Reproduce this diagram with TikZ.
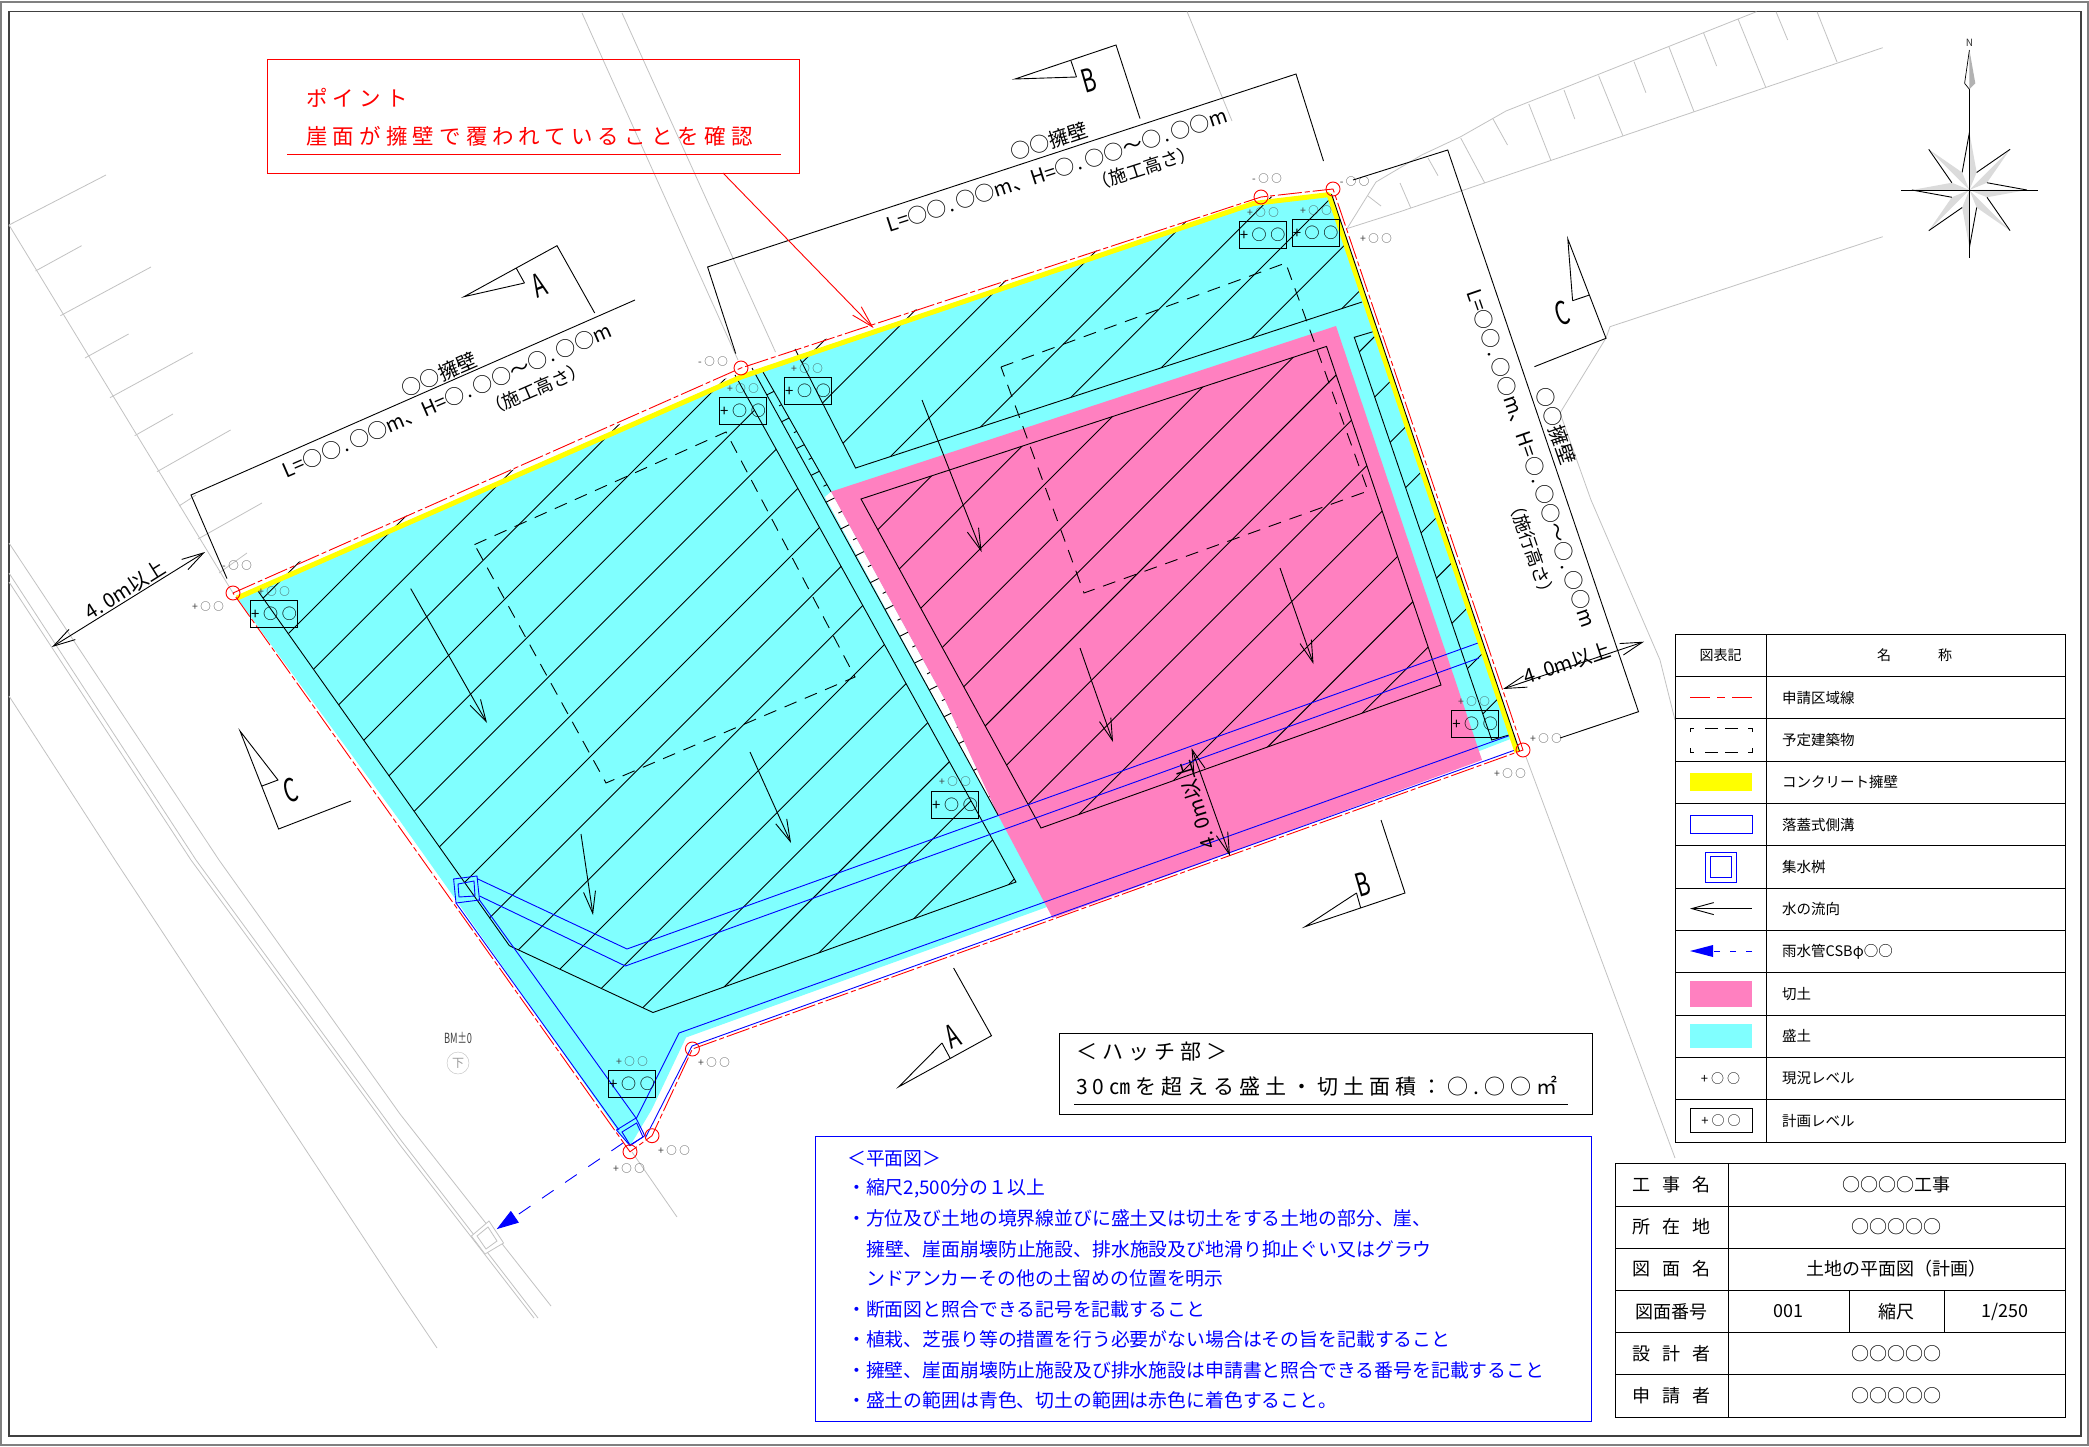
\documentclass[tikz,border=0pt]{standalone}
\usepackage{fontspec}
\setmainfont{Noto Sans CJK JP}
\newfontfamily\widefont[LetterSpace=24]{Noto Sans CJK JP}
\usetikzlibrary{arrows.meta}
\definecolor{wallyellow}{RGB}{255,255,0}
\definecolor{fillcyan}{RGB}{128,255,255}
\definecolor{cutpink}{RGB}{255,128,192}
\newcommand{\fs}[1]{\fontsize{#1}{#1}\selectfont}
\newcommand{\gp}{\hspace{12pt}}
\newcommand{\dt}{\hspace{2pt}.\hspace{3pt}}
\newcommand{\wallsize}{L=○○\dt ○○m、H=○\dt ○○～○\dt ○○m}
\newcommand{\narrow}[1]{\scalebox{.66}[1]{#1}}
\newcommand{\hatchlines}{\foreach \i in {-1,...,21} {\pgfmathsetmacro{\hc}{922+60.7*\i} \draw[hatch] (0,\hc) -- (\hc,0);}}

\begin{document}
\begin{tikzpicture}[x=1pt,y=-1pt,>={Straight Barb[length=22pt,width=12pt]},line join=miter]
  \tikzstyle{ground}=[draw=black!24,line width=0.8pt]
  \tikzstyle{hatch}=[draw=black,line width=0.9pt]
  \tikzstyle{blk}=[draw=black,line width=0.9pt]
  \tikzstyle{plan}=[draw=black,dash pattern=on 13pt off 9pt,line width=0.9pt]
  \tikzstyle{drain}=[draw=blue,line width=0.9pt]
  \tikzstyle{redline}=[draw=red,line width=0.9pt,dash pattern=on 24pt off 3pt on 5pt off 3pt]
  \tikzstyle{redmark}=[circle,draw=red,line width=0.9pt,minimum size=14pt,inner sep=0pt]
  \tikzstyle{lvl}=[text=black!75,font=\widefont\fs{10.5},inner sep=0pt]
  \tikzstyle{lvlbox}=[draw=black,line width=0.9pt,font=\widefont\fs{15},minimum width=47pt,minimum height=27pt,inner sep=0pt]
  \tikzstyle{seclabel}=[font=\fs{32},inner sep=0pt,text=black]
  \tikzstyle{walltext}=[font=\fs{20},inner sep=0pt]
  \tikzstyle{wallsub}=[font=\fs{18},inner sep=0pt]
  \tikzstyle{legtext}=[font=\fs{14.5},anchor=west,inner sep=0pt]
  \tikzstyle{tbltext}=[font=\fs{18},inner sep=0pt]
  \tikzstyle{note}=[font=\fs{18.85},text=blue,anchor=west,inner sep=0pt]

  \useasboundingbox (0,0) rectangle (2089,1447);
  \fill[white] (0,0) rectangle (2089,1447);
  \draw[draw=black!50,line width=1.5pt] (1,2) rectangle (2088,1445);
  \draw[draw=black!75,line width=1.5pt] (9,11.5) rectangle (2081,1436);

  % map
  \draw[ground] (9,225) -- (233,593);
  \draw[ground] (9,225) -- (106,175) (35.5,271) -- (81.6,245.7) (60.4,315.7) -- (151,267) (85,358) -- (128.6,334)
    (110,397.7) -- (192.7,352.7) (134.7,435.7) -- (173,414) (157,471.7) -- (230.6,430)
    (179,506) -- (196,495) (198,539) -- (262,503) (219,573) -- (247,553);
  \draw[ground] (9,543) -- (219,860) -- (400,1114) -- (551,1306);
  \draw[ground] (9,573) -- (196,860) -- (400,1139) -- (538,1318);
  \draw[ground] (9,582) -- (191,860) -- (400,1145) -- (534,1318);
  \draw[ground] (9,696) -- (115,860) -- (400,1293) -- (437,1348);
  \draw[ground,fill=white] (471.4,1236) -- (489,1221) -- (503.6,1243) -- (485,1254) -- cycle;
  \draw[ground] (477,1236) -- (488,1227) -- (497,1241) -- (486,1249) -- cycle;
  \draw[ground] (632,1152) -- (677,1217);
  \draw[ground] (582,13) -- (738,360);
  \draw[ground] (622,13) -- (775.5,352);
  \draw[ground] (1187,11.5) -- (1232,121);
  \draw[ground] (1347,228.6) -- (1376,182) -- (1421.7,155) -- (1460.7,136.7) -- (1506,111) -- (1756.5,11.7);
  \draw[ground] (1347,228.6) -- (1400,211.7) -- (1882.7,47.7);
  \draw[ground] (1882.7,236.7) -- (1610,326.7) -- (1606,338) -- (1560,413) -- (1591,500) -- (1660,660) -- (1675,720);
  \draw[ground] (1526,757) -- (1675,1158);
  \draw[ground] (1460.7,138) -- (1484.6,182.7) (1528.8,104) -- (1551,160.7) (1598.6,75.7) -- (1623,136)
    (1669,47) -- (1694,111.7) (1738,19) -- (1765.6,87) (1817,11.7) -- (1837,62)
    (1493,119) -- (1507.5,145) (1564,90) -- (1574.8,119) (1634,61.7) -- (1645.9,92.7) (1703.6,33) -- (1716.6,66)
    (1776,11.7) -- (1787.7,40) (1428,158) -- (1438,175.7) (1400,183) -- (1410.8,208) (1368,196) -- (1381,206);

  % fill and cut
  \fill[fillcyan] (237,598) -- (741,377) -- (1253,203) -- (1329,195) -- (1513,738)
    -- (1482,750) -- (1047,907) -- (686,1037.5) -- (652,1109) -- (630,1146) -- (617,1130) -- (456,900) -- (400,821) -- cycle;
  \fill[white] (825,497) -- (831,491.7) -- (945,700) -- (998,815) -- cycle;
  \fill[cutpink] (831,491.7) -- (1336,326) -- (1482,760) -- (1052.6,918) -- (998,815) -- (945,700) -- cycle;

  % hatching
  \begin{scope}
    \clip (252,582) -- (741,372) -- (735,375) -- (1016,882) -- (653,1012.5) -- (509.4,945.7) -- cycle;
    \hatchlines
  \end{scope}
  \begin{scope}
    \clip (795,349) -- (1261,197) -- (1329,195) -- (1362,302) -- (855.6,468) -- cycle;
    \hatchlines
  \end{scope}
  \begin{scope}
    \clip (1354.3,337.3) -- (1373,331.7) -- (1509,735) -- (1491.7,740) -- cycle;
    \hatchlines
  \end{scope}
  \begin{scope}
    \clip (861,499) -- (1326.5,346.4) -- (1441,685) -- (1041,828) -- cycle;
    \hatchlines
  \end{scope}
  \draw[blk] (258,591) -- (509.4,945.7) -- (653,1012.5) -- (1016,882) -- (735,375);
  \draw[blk] (795,349) -- (855.6,468) -- (1362,302);
  \draw[blk] (1373,331.7) -- (1354.3,337.3) -- (1491.7,740) -- (1509,735);
  \draw[blk] (861,499) -- (1326.5,346.4) -- (1441,685) -- (1041,828) -- cycle;

  % side ditch on the wall
  \draw[blk] (752,368) -- (998,815);
  \draw[blk] (763,372) -- (831,491.7);
  \begin{scope}
    \clip (752,368) -- (763,372) -- (831,491.7) -- (945,700) -- (998,815) -- cycle;
    \foreach \i in {0,2,...,30} {\draw[blk] (766.7+7.4*\i,395+13.4*\i) -- ++(11,-5.5);}
    \foreach \i in {1,3,...,29} {\draw[blk] (771.7+7.4*\i,392.5+13.4*\i) -- ++(6,-3);}
  \end{scope}

  % planned buildings
  \draw[plan] (474.5,544.6) -- (726,432) -- (855,677) -- (606,783) -- cycle;
  \draw[plan] (1001,367) -- (1285.7,263) -- (1368,491) -- (1084,593) -- cycle;

  % flow
  \draw[blk,->] (410.7,588.6) -- (487,723);
  \draw[blk,->] (750,752) -- (791,843);
  \draw[blk,->] (581,834) -- (593,915);
  \draw[blk,->] (922,400) -- (981.6,552);
  \draw[blk,->] (1080,648) -- (1113,742);
  \draw[blk,->] (1280,568) -- (1313.5,664);

  % drains and basins
  \draw[drain] (453.6,879) -- (477,876) -- (479.5,900) -- (456,903) -- cycle;
  \draw[drain] (458,884) -- (474,881) -- (475,896) -- (459,897) -- cycle;
  \draw[drain] (616.5,1130) -- (636,1118) -- (644.7,1135.7) -- (630,1145.7) -- cycle;
  \draw[drain] (622,1132) -- (636.6,1123) -- (643,1137) -- (630,1145) -- cycle;
  \draw[drain] (477,878.6) -- (627,949) -- (1478,643);
  \draw[drain] (479.5,896) -- (625.4,966) -- (1479,658);
  \draw[drain] (479.5,900) -- (636,1118);
  \draw[drain] (456,903) -- (619,1130);
  \draw[drain] (636.6,1118) -- (679,1033) -- (1511,735);
  \draw[drain] (645.5,1137.5) -- (692,1046) -- (1515,750);
  \node[inner sep=0pt] (pipeend) at (496,1229.6) {};
  \coordinate (pipestart) at (623,1143);
  \draw[draw=blue,line width=0.9pt,dash pattern=on 14pt off 14pt,-{Triangle[length=22pt,width=14pt,fill=blue]}] (pipestart) -- (pipeend);

  % walls
  \draw[draw=wallyellow,line width=5pt,line join=bevel] (237,598) -- (741,377) -- (1253,203.6) -- (1329,194.6) -- (1517,752);
  \draw[blk] (1331.5,194) -- (1519.5,751);

  % boundary
  \node[redmark] (p1) at (233,593) {};
  \node[redmark] (p2) at (741,368) {};
  \node[redmark] (p3) at (1261,197) {};
  \node[redmark] (p4) at (1333,189) {};
  \node[redmark] (p5) at (1523,750) {};
  \node[redmark] (p6) at (692.4,1049) {};
  \node[redmark] (p7) at (652,1135.7) {};
  \node[redmark] (p8) at (630,1151.8) {};
  \draw[redline] (p1.center) -- (p2.center) -- (p3.center) -- (p4.center) -- (p5.center) -- (p6.center) -- (p7.center) -- (p8.center) -- cycle;

  % levels
  \node[lvl] (g1) at (237,566) {-○○};
  \node[lvl] (g2) at (208,607) {+○○};
  \node[lvl] (g3) at (713,362) {-○○};
  \node[lvl] (g4) at (1267,178.6) {-○○};
  \node[lvl] (g5) at (1354.6,182) {-○○};
  \node[lvl] (g6) at (1376,238.6) {+○○};
  \node[lvl] (g7) at (1546,739) {+○○};
  \node[lvl] (g8) at (1510,774) {+○○};
  \node[lvl] (g9) at (714,1063) {+○○};
  \node[lvl] (g10) at (674,1151) {+○○};
  \node[lvl] (g11) at (629,1169) {+○○};
  \node[lvl] (h1) at (274,592) {+○○};
  \node[lvlbox] (b1) at (274,614) {+○○};
  \node[lvl] (h2) at (743,388.6) {+○○};
  \node[lvlbox] (b2) at (743,410.5) {+○○};
  \node[lvl] (h3) at (807,368.6) {+○○};
  \node[lvlbox] (b3) at (808,391) {+○○};
  \node[lvl] (h4) at (1263,212.5) {+○○};
  \node[lvlbox] (b4) at (1262.5,234.5) {+○○};
  \node[lvl] (h5) at (1316,210.7) {+○○};
  \node[lvlbox] (b5) at (1315.5,232.5) {+○○};
  \node[lvl] (h6) at (1474,701.7) {+○○};
  \node[lvlbox] (b6) at (1475,723.5) {+○○};
  \node[lvl] (h7) at (955,782) {+○○};
  \node[lvlbox] (b7) at (955,805) {+○○};
  \node[lvl] (h8) at (632,1062) {+○○};
  \node[lvlbox] (b8) at (632,1083.5) {+○○};

  \node[font=\fs{14},text=black!75,inner sep=0pt] (bm) at (458,1037.5) {\narrow{BM±0}};
  \node[circle,draw=black!25,text=black!40,font=\fs{12},inner sep=1pt,minimum size=22pt] (bmmark) at (458,1063) {下};

  % wall dimensions
  \draw[blk] (227,578.6) -- (191,495) -- (635,300);
  \draw[blk] (735.7,353.6) -- (707.6,267) -- (1296,74) -- (1323.5,161);
  \draw[blk] (1353,180) -- (1447.7,150) -- (1638.5,711.7) -- (1560,738);
  \node[walltext,rotate=23.5] (wall1) at (447,400) {\wallsize};
  \node[walltext,rotate=23.5] (name1) at (439,375) {○○擁壁};
  \node[wallsub,rotate=23.5] (sub1) at (536,389) {（施工高さ）};
  \node[walltext,rotate=18] (wall2) at (1057,170) {\wallsize};
  \node[walltext,rotate=18] (name2) at (1049.5,141) {○○擁壁};
  \node[wallsub,rotate=18] (sub2) at (1144,168) {（施工高さ）};
  \node[walltext,rotate=-71] (wall3) at (1532,458) {\wallsize};
  \node[walltext,rotate=-71] (name3) at (1556,426) {○○擁壁};
  \node[wallsub,rotate=-71] (sub3) at (1532,549) {（施行高さ）};

  % distance marks
  \draw[blk,<->] (205,552) -- (52,647);
  \node[walltext,rotate=32,font=\fs{20}] (dist1) at (125,590) {4.\hspace{4pt}0m以上};
  \draw[blk,<->] (1644,641.7) -- (1503,689);
  \node[walltext,rotate=18.5,font=\fs{20}] (dist2) at (1567,663) {4.\hspace{4pt}0m以上};
  \draw[blk,<->] (1191.5,748) -- (1230,856);
  \node[walltext,rotate=107,font=\fs{20}] (dist3) at (1196,805) {4.\hspace{4pt}0m以上};

  % section marks
  \draw[blk] (524.5,283) -- (464,296.7) -- (557,245.7) -- (594.7,313) (516,267.7) -- (524.5,283);
  \node[seclabel,rotate=22] (seca) at (539,285.7) {\narrow{A}};
  \draw[blk] (1076.5,77) -- (1015,79) -- (1116,45) -- (1140,118.6) (1071,61) -- (1076.5,77);
  \node[seclabel,rotate=16] (secb) at (1089,80) {\narrow{B}};
  \draw[blk] (262,786) -- (278,780) -- (240,731) -- (278.6,829) -- (351,801);
  \node[seclabel,rotate=16] (secc) at (291,790) {\narrow{C}};
  \draw[blk] (1572.6,300.7) -- (1567.8,239) -- (1606,338.3) -- (1534.4,366.7) (1589.5,295) -- (1572.6,300.7);
  \node[seclabel,rotate=18] (seccb) at (1562,313) {\narrow{C}};
  \draw[blk] (942,1043) -- (898.7,1086.8) -- (991.5,1035.7) -- (953.6,968) (942,1043) -- (950,1058);
  \node[seclabel,rotate=24] (secab) at (952.7,1036) {\narrow{A}};
  \draw[blk] (1356.5,893) -- (1305,926.7) -- (1405,893) -- (1381,820) (1356.5,893) -- (1360.7,908);
  \node[seclabel,rotate=16] (secbb) at (1363,884) {\narrow{B}};

  % north mark
  \begin{scope}[shift={(1969.4,190)}]
    \foreach \a in {-90,-45,...,225} {
      \fill[fill=black!14] (0,0) -- (\a:57.5) -- (\a+22.5:19) -- cycle;
      \draw[blk] (\a:57.5) -- (\a-22.5:19);
    }
    \draw[blk] (-68.4,0) -- (68.9,0);
    \draw[blk] (0,-100.7) -- (0,68);
    \fill[fill=black!30] (0,-140) -- (5.9,-106.7) -- (0,-100.7) -- cycle;
    \draw[draw=black,line width=0.7pt] (0,-140) -- (-4.8,-106.7) -- (0,-100.7);
    \node[font=\fs{10},text=black!80,inner sep=0pt] (north) at (0,-146.7) {N};
  \end{scope}

  % point box
  \node[draw=red,line width=0.9pt,minimum width=532pt,minimum height=114pt,inner sep=0pt] (pointbox) at (533.8,116) {};
  \node[font=\widefont\fs{21.5},text=red,anchor=west,inner sep=0pt] (point1) at (306,98) {ポイント};
  \node[font=\widefont\fs{21.5},text=red,anchor=west,inner sep=0pt] (point2) at (306,136) {崖面が擁壁で覆われていることを確認};
  \draw[draw=red,line width=0.9pt] (287,154.5) -- (781,154.5);
  \coordinate (pointend) at (873.5,328);
  \draw[draw=red,line width=0.9pt,->] (723,173) -- (pointend);

  % hatch box
  \node[draw=black,line width=0.9pt,minimum width=533pt,minimum height=81pt,inner sep=0pt] (hatchbox) at (1325.5,1073.5) {};
  \node[font=\widefont\fs{21},anchor=west,inner sep=0pt] (hatch1) at (1076,1052) {＜ハッチ部＞};
  \node[font=\widefont\fs{21},anchor=west,inner sep=0pt] (hatch2) at (1076,1086) {30㎝を超える盛土・切土面積：○.○○㎡};
  \draw[blk] (1074,1104) -- (1568,1104);

  % notes
  \node[draw=blue,line width=0.9pt,minimum width=776.5pt,minimum height=285pt,inner sep=0pt] (notebox) at (1203.5,1278.5) {};
  \node[note] (n0) at (847,1159) {＜平面図＞};
  \node[note] (n1) at (847,1188.6) {・縮尺2,500分の１以上};
  \node[note] (n2) at (847,1218.6) {・方位及び土地の境界線並びに盛土又は切土をする土地の部分、崖、};
  \node[note] (n3) at (866,1249) {擁壁、崖面崩壊防止施設、排水施設及び地滑り抑止ぐい又はグラウ};
  \node[note] (n4) at (866,1278.6) {ンドアンカーその他の土留めの位置を明示};
  \node[note] (n5) at (847,1309) {・断面図と照合できる記号を記載すること};
  \node[note] (n6) at (847,1339) {・植栽、芝張り等の措置を行う必要がない場合はその旨を記載すること};
  \node[note] (n7) at (847,1370) {・擁壁、崖面崩壊防止施設及び排水施設は申請書と照合できる番号を記載すること};
  \node[note] (n8) at (847,1400) {・盛土の範囲は青色、切土の範囲は赤色に着色すること。};

  % legend
  \draw[blk] (1675.3,634) rectangle (2065,1142);
  \draw[blk] (1766,634) -- (1766,1142);
  \foreach \r in {1,...,11} {\draw[blk] (1675.3,634+42.33*\r) -- (2065,634+42.33*\r);}
  \node[font=\fs{14},inner sep=0pt] (leghead) at (1720.5,655) {図表記};
  \node[font=\fs{14},inner sep=0pt] (legname) at (1914.5,655) {名\hspace{47pt}称};
  \node[legtext] (l1) at (1782,697.5) {申請区域線};
  \node[legtext] (l2) at (1782,739.8) {予定建築物};
  \node[legtext] (l3) at (1782,782.1) {コンクリート擁壁};
  \node[legtext] (l4) at (1782,824.5) {落蓋式側溝};
  \node[legtext] (l5) at (1782,866.8) {集水桝};
  \node[legtext] (l6) at (1782,909.1) {水の流向};
  \node[legtext] (l7) at (1782,951.5) {雨水管CSBφ○○};
  \node[legtext] (l8) at (1782,993.8) {切土};
  \node[legtext] (l9) at (1782,1036.1) {盛土};
  \node[legtext] (l10) at (1782,1078.5) {現況レベル};
  \node[legtext] (l11) at (1782,1120.8) {計画レベル};
  \draw[draw=red,line width=0.9pt] (1690,697.5) -- (1710,697.5) (1717,697.5) -- (1725,697.5) (1732,697.5) -- (1752,697.5);
  \draw[blk] (1690,732) -- (1690,728) -- (1694,728) (1705,728) -- (1718,728) (1725,728) -- (1738,728) (1748,728) -- (1752,728) -- (1752,732)
    (1690,748) -- (1690,752) -- (1694,752) (1705,752) -- (1718,752) (1725,752) -- (1738,752) (1748,752) -- (1752,752) -- (1752,748);
  \fill[wallyellow] (1690,773) rectangle (1752,791.4);
  \draw[drain] (1690,815) rectangle (1752,833.6);
  \draw[drain] (1705.7,852) rectangle (1736,882);
  \draw[drain] (1710,856) rectangle (1731.7,877.4);
  \draw[blk,<-] (1690,908.6) -- (1752,908.6);
  \coordinate (legpipe) at (1752,951);
  \draw[draw=blue,line width=0.9pt,dash pattern=on 6pt off 10pt] (legpipe) -- (1713,951);
  \fill[fill=blue] (1690,951) -- (1713,945) -- (1713,957) -- cycle;
  \fill[cutpink] (1690,981.3) rectangle (1752,1006.6);
  \fill[fillcyan] (1690,1023.5) rectangle (1752,1048);
  \node[font=\widefont\fs{13},inner sep=0pt] (legg) at (1720.5,1078.5) {+○○};
  \node[draw=black,line width=0.9pt,font=\widefont\fs{13},minimum width=62pt,minimum height=24.6pt,inner sep=0pt] (legb) at (1721,1120.3) {+○○};

  % title block
  \draw[blk] (1615,1163.8) rectangle (2065,1417);
  \draw[blk] (1728,1163.8) -- (1728,1417);
  \foreach \r in {1,...,5} {\draw[blk] (1615,1163.8+42.2*\r) -- (2065,1163.8+42.2*\r);}
  \draw[blk] (1849,1290.4) -- (1849,1332.6) (1944,1290.4) -- (1944,1332.6);
  \node[tbltext] (t1) at (1671.5,1185) {工\gp 事\gp 名};
  \node[tbltext] (t2) at (1671.5,1227) {所\gp 在\gp 地};
  \node[tbltext] (t3) at (1671.5,1269) {図\gp 面\gp 名};
  \node[tbltext] (t4) at (1671.5,1311.5) {図面番号};
  \node[tbltext] (t5) at (1671.5,1354) {設\gp 計\gp 者};
  \node[tbltext] (t6) at (1671.5,1396) {申\gp 請\gp 者};
  \node[tbltext] (v1) at (1896,1185) {○○○○工事};
  \node[tbltext] (v2) at (1896,1227) {○○○○○};
  \node[tbltext] (v3) at (1896,1269) {土地の平面図（計画）};
  \node[tbltext] (v4) at (1788.5,1311.5) {001};
  \node[tbltext] (v5) at (1896.5,1311.5) {縮尺};
  \node[tbltext] (v6) at (2005,1311.5) {1/250};
  \node[tbltext] (v7) at (1896,1354) {○○○○○};
  \node[tbltext] (v8) at (1896,1396) {○○○○○};
\end{tikzpicture}
\end{document}
